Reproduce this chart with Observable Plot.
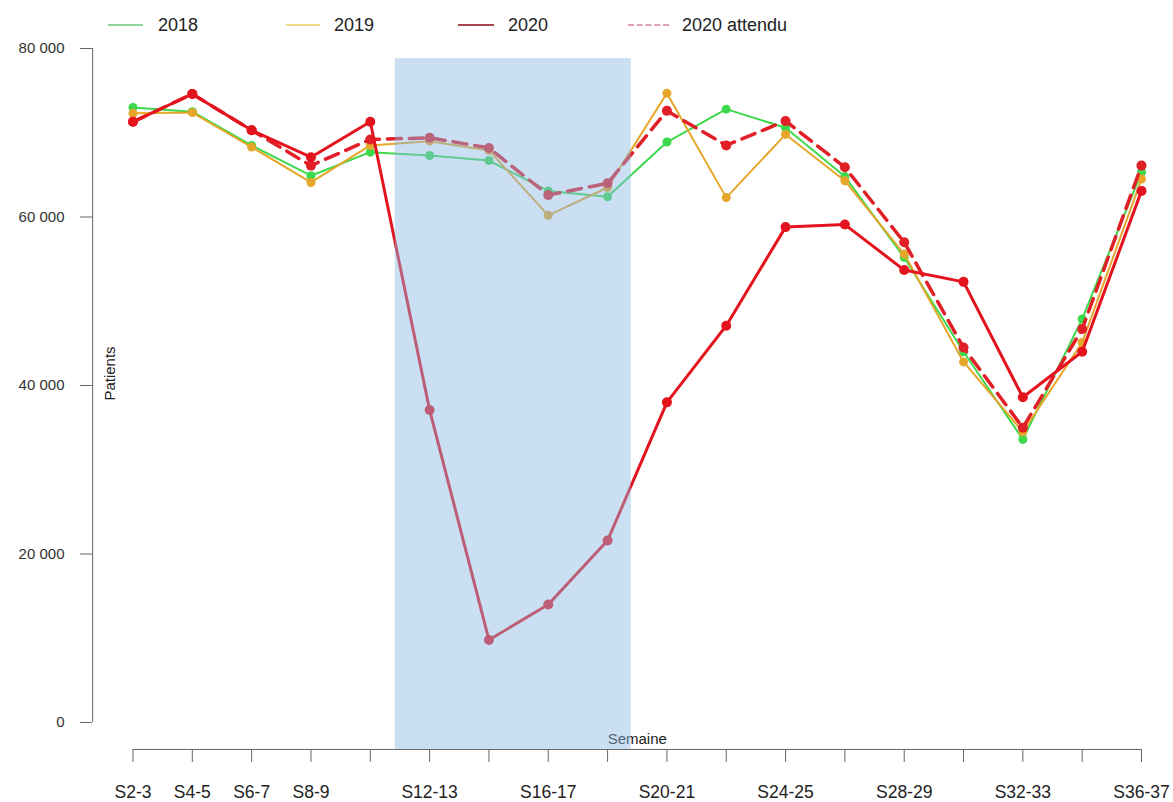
<!DOCTYPE html>
<html>
<head>
<meta charset="utf-8">
<script src="https://cdn.jsdelivr.net/npm/d3@7"></script>
<script src="https://cdn.jsdelivr.net/npm/@observablehq/plot@0.6"></script>
<style>
  body { margin: 0; background: #fff; font-family: "Liberation Sans", Arial, sans-serif; }
  #legend { position: relative; width: 1173px; height: 40px; }
  .sw { position: absolute; top: 24px; height: 0; border-top-width: 2px; border-top-style: solid; }
  .lb { position: absolute; top: 15px; font-size: 18px; color: #222; line-height: 20px; }
  #chart svg { display: block; }
</style>
</head>
<body>
<div id="legend"></div>
<div id="chart"></div>
<script>
// ---- data ----
const weeks = ["S2-3","S4-5","S6-7","S8-9","S10-11","S12-13","S14-15","S16-17","S18-19",
               "S20-21","S22-23","S24-25","S26-27","S28-29","S30-31","S32-33","S34-35","S36-37"];
const shownLabels = ["S2-3","S4-5","S6-7","S8-9","S12-13","S16-17","S20-21","S24-25","S28-29","S32-33","S36-37"];
const seriesNames = ["2018","2019","2020","2020 attendu"];
const v2018    = [73000,72500,68500,64900,67700,67300,66700,63100,62400,68900,72800,70600,64800,55200,44000,33600,47900,65300];
const v2019    = [72300,72400,68300,64100,68500,69000,67900,60200,63500,74700,62300,69800,64300,55600,42800,34500,45100,64500];
const v2020    = [71300,74600,70300,67100,71300,37100, 9800,14000,21600,38000,47100,58800,59100,53700,52300,38600,44000,63100];
const v2020att = [71300,74600,70300,66100,69200,69400,68200,62600,64000,72600,68500,71400,65900,57000,44500,35000,46700,66100];
const yTicks = [0,20000,40000,60000,80000];
// confinement period (x in week-pair index units, 1 = S2-3)
const lockdown = [{from: 5.42, to: 9.40, low: -3200, high: 78800}];

// ---- styles ----
const colors = {"2018": "#3dd94c", "2019": "#e6a62a", "2020": "#e3141d", "2020 attendu": "#e01f27"};
const legendColors = {"2018": "#8fd49c", "2019": "#efd98f", "2020": "#a8464f", "2020 attendu": "#e3a0b0"};

const idx = weeks.map((w, i) => i + 1);
const rows = (vals, s) => vals.map((v, i) => ({x: i + 1, week: weeks[i], y: v, s}));
const d2018 = rows(v2018, "2018"), d2019 = rows(v2019, "2019");
const d2020 = rows(v2020, "2020"), dAtt = rows(v2020att, "2020 attendu");

const pad = 0.04 * (weeks.length - 1);
const xMin = 1 - pad, xMax = weeks.length + pad, xMid = (xMin + xMax) / 2;
const yBase = -0.04 * 80000;
const fmt = d => d3.format(",")(d).replace(/,/g, " ");

// legend (HTML)
const legendPos = [[108, 143, 158], [286, 320, 334], [458, 494, 508], [628, 669, 682]];
const leg = document.getElementById("legend");
seriesNames.forEach((s, i) => {
  const [a, b, t] = legendPos[i];
  const sw = document.createElement("div");
  sw.className = "sw";
  sw.style.left = a + "px"; sw.style.width = (b - a) + "px";
  sw.style.borderTopColor = legendColors[s];
  if (s === "2020 attendu") sw.style.borderTopStyle = "dashed";
  leg.appendChild(sw);
  const lb = document.createElement("div");
  lb.className = "lb"; lb.style.left = t + "px"; lb.textContent = s;
  leg.appendChild(lb);
});

const chart = Plot.plot({
  width: 1173, height: 762,
  marginLeft: 92, marginRight: 0, marginTop: 0, marginBottom: 53,
  style: {fontFamily: "Liberation Sans, Arial, sans-serif", background: "#fff"},
  x: {domain: [1, weeks.length], range: [132.5, 1141], axis: null},
  y: {domain: [0, 80000], range: [682, 8], axis: null},
  marks: [
    Plot.axisY({ticks: yTicks, tickFormat: fmt, tickSize: 12, tickPadding: 16, fontSize: 15,
                stroke: "#666", color: "#333", anchor: "left"}),
    Plot.ruleX([xMin], {y1: 0, y2: 80000, stroke: "#666"}),
    Plot.axisX({ticks: idx, tickFormat: i => shownLabels.includes(weeks[i - 1]) ? weeks[i - 1] : "",
                tickSize: 13, tickPadding: 23, fontSize: 17.5, stroke: "#666", color: "#222", anchor: "bottom"}),
    Plot.ruleY([yBase], {x1: 1, x2: weeks.length, stroke: "#666"}),
    Plot.text(["Patients"], {x: xMin, y: 40000, rotate: -90, dx: 18, dy: -12, fontSize: 15, fill: "#222"}),
    Plot.text(["Semaine"], {x: xMid, y: yBase, dy: -10, fontSize: 15, fill: "#222"}),

    Plot.line(d2018, {x: "x", y: "y", stroke: colors["2018"], strokeWidth: 2}),
    Plot.dot(d2018, {x: "x", y: "y", r: 4.5, fill: colors["2018"]}),
    Plot.line(d2019, {x: "x", y: "y", stroke: colors["2019"], strokeWidth: 2}),
    Plot.dot(d2019, {x: "x", y: "y", r: 4.5, fill: colors["2019"]}),
    Plot.line(dAtt, {x: "x", y: "y", stroke: colors["2020 attendu"], strokeWidth: 3.5, strokeDasharray: "14,8"}),
    Plot.dot(dAtt, {x: "x", y: "y", r: 5, fill: colors["2020 attendu"]}),
    Plot.line(d2020, {x: "x", y: "y", stroke: colors["2020"], strokeWidth: 3}),
    Plot.dot(d2020, {x: "x", y: "y", r: 5, fill: colors["2020"]}),

    Plot.rect(lockdown, {x1: "from", x2: "to", y1: "low", y2: "high", fill: "rgb(140,185,228)", fillOpacity: 0.45})
  ]
});
document.getElementById("chart").appendChild(chart);
</script>
</body>
</html>
